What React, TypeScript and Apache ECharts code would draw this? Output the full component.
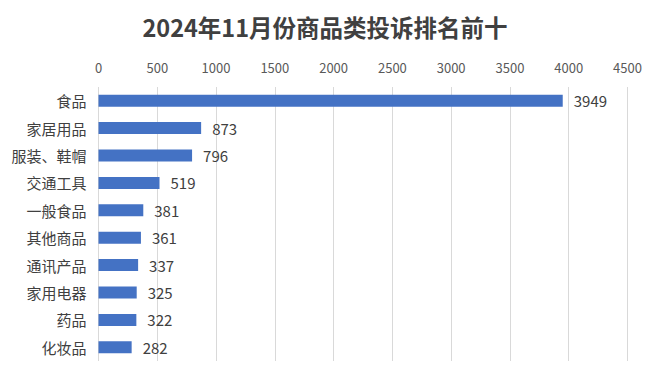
import React, { useEffect, useRef } from "react";
import * as echarts from "echarts";

const titleText = "2024年11月份商品类投诉排名前十";
const categories = ["食品", "家居用品", "服装、鞋帽", "交通工具", "一般食品", "其他商品", "通讯产品", "家用电器", "药品", "化妆品"];
const values = [3949, 873, 796, 519, 381, 361, 337, 325, 322, 282];
const axisMax = 4500;
const axisInterval = 500;

export default function App() {
  const ref = useRef<HTMLDivElement>(null);
  useEffect(() => {
    if (!ref.current) return;
    const chart = echarts.init(ref.current, null, { renderer: "svg" });
    chart.setOption({
      animation: false,
      backgroundColor: "#ffffff",
      title: {
        text: titleText,
        left: "center",
        top: 10,
        textStyle: {
          fontFamily: "Noto Sans CJK SC",
          fontSize: 23.5,
          fontWeight: "bold",
          color: "#404040",
        },
      },
      grid: { left: 98.5, right: 22.5, top: 87, bottom: 16, containLabel: false },
      xAxis: {
        type: "value",
        position: "top",
        min: 0,
        max: axisMax,
        interval: axisInterval,
        axisLine: { show: false },
        axisTick: { show: false },
        axisLabel: {
          color: "#595959",
          fontSize: 13,
          fontFamily: "Noto Sans CJK SC",
          margin: 13,
          formatter: (v: number) => String(v),
        },
        splitLine: { show: true, lineStyle: { color: "#d9d9d9", width: 1 } },
      },
      yAxis: {
        type: "category",
        data: categories,
        inverse: true,
        axisLine: { show: false },
        axisTick: { show: false },
        axisLabel: { color: "#404040", fontSize: 15, fontFamily: "Noto Sans CJK SC", margin: 12 },
      },
      series: [
        {
          type: "bar",
          data: values,
          barWidth: 12,
          itemStyle: { color: "#4472C4" },
          label: {
            show: true,
            position: "right",
            distance: 11,
            color: "#404040",
            fontSize: 15,
            fontFamily: "Noto Sans CJK SC",
          },
        },
      ],
    });
    return () => chart.dispose();
  }, []);
  return <div ref={ref} style={{ position: "fixed", left: 0, top: 0, width: 650, height: 377 }} />;
}
